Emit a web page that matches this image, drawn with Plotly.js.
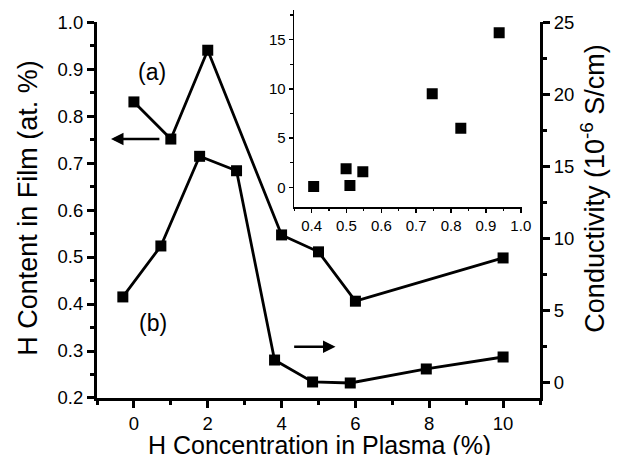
<!DOCTYPE html>
<html>
<head>
<meta charset="utf-8">
<script src="https://cdn.plot.ly/plotly-3.0.1.min.js"></script>
<style>html,body{margin:0;padding:0;background:#fff;}#chart{width:621px;height:455px;}</style>
</head>
<body>
<div id="chart"></div>
<script>
// Series (a): H content in film (left axis)
var plasmaA = [0, 1, 2, 4, 5, 6, 10];
var hContent = [0.83, 0.751, 0.94, 0.547, 0.511, 0.406, 0.498];
// Series (b): conductivity (right axis)
var plasmaB = [-0.3, 0.73, 1.78, 2.78, 3.81, 4.84, 5.86, 7.92, 10];
var conductivity = [5.96, 9.49, 15.7, 14.7, 1.59, 0.07, 0.0, 0.97, 1.8];
// Inset: conductivity vs H content
var insetX = [0.406, 0.499, 0.51, 0.547, 0.746, 0.828, 0.938];
var insetY = [0.1, 1.9, 0.2, 1.6, 9.5, 6.0, 15.7];

var FONT = 'Liberation Sans, Arial, Helvetica, sans-serif';
var mk = {symbol: 'square', size: 11, color: '#000'};

var traces = [
  {x: plasmaA, y: hContent, xaxis: 'x', yaxis: 'y', mode: 'lines+markers',
   line: {color: '#000', width: 2.8}, marker: mk},
  {x: plasmaB, y: conductivity, xaxis: 'x', yaxis: 'y2', mode: 'lines+markers',
   line: {color: '#000', width: 2.8}, marker: mk},
  {x: insetX, y: insetY, xaxis: 'x3', yaxis: 'y3', mode: 'markers',
   marker: {symbol: 'square', size: 11, color: '#000'}}
];

var mainAxis = {
  showgrid: false, zeroline: false, showline: true, linecolor: '#000', linewidth: 3,
  ticks: 'outside', ticklen: 7, tickwidth: 3, tickcolor: '#000',
  tickfont: {family: FONT, size: 18.5, color: '#000'}
};
function ext(a, b) { return Object.assign({}, a, b); }

var insetAxis = {
  showgrid: false, zeroline: false, showline: true, linecolor: '#000', linewidth: 1.5,
  ticks: 'outside', ticklen: 4, tickwidth: 1.5, tickcolor: '#000',
  tickfont: {family: FONT, size: 15, color: '#000'}
};

var layout = {
  width: 621, height: 455,
  margin: {l: 97, r: 81, t: 10, b: 57},
  paper_bgcolor: '#fff', plot_bgcolor: 'rgba(0,0,0,0)',
  showlegend: false,
  font: {family: FONT, color: '#000'},
  xaxis: ext(mainAxis, {range: [-1, 11], dtick: 2, tick0: 0, anchor: 'y',
    minor: {dtick: 1, ticks: 'outside', ticklen: 4, tickwidth: 3, tickcolor: '#000'}}),
  yaxis: ext(mainAxis, {range: [0.2, 1.0], dtick: 0.1, tick0: 0, tickformat: '.1f',
    domain: [0, 0.969], anchor: 'x',
    minor: {dtick: 0.05, ticks: 'outside', ticklen: 4, tickwidth: 3, tickcolor: '#000'}}),
  yaxis2: ext(mainAxis, {range: [-1.04, 25], dtick: 5, tick0: 0, overlaying: 'y', side: 'right',
    domain: [0, 0.969], anchor: 'x',
    minor: {dtick: 2.5, ticks: 'outside', ticklen: 4, tickwidth: 3, tickcolor: '#000'}}),
  xaxis3: ext(insetAxis, {domain: [0.445, 0.959], anchor: 'y3', range: [0.35, 1.003],
    dtick: 0.1, tick0: 0, tickformat: '.1f',
    minor: {dtick: 0.05, ticks: 'outside', ticklen: 2.5, tickwidth: 1.2, tickcolor: '#000'}}),
  yaxis3: ext(insetAxis, {domain: [0.492, 1], anchor: 'x3', range: [-2, 18],
    dtick: 5, tick0: 0,
    minor: {dtick: 2.5, ticks: 'outside', ticklen: 2.5, tickwidth: 1.2, tickcolor: '#000'}}),
  annotations: [
    {xref: 'paper', yref: 'paper', x: -0.156, y: 0.49, text: 'H Content in Film (at. %)',
     textangle: -90, showarrow: false, xanchor: 'center', yanchor: 'middle',
     font: {family: FONT, size: 27, color: '#000'}},
    {xref: 'paper', yref: 'paper', x: 1.12, y: 0.54, text: 'Conductivity (10<sup>-6</sup> S/cm)',
     textangle: -90, showarrow: false, xanchor: 'center', yanchor: 'middle',
     font: {family: FONT, size: 27, color: '#000'}},
    {xref: 'paper', yref: 'paper', x: 0.503, y: -0.16, text: 'H Concentration in Plasma (%)',
     showarrow: false, xanchor: 'center', yanchor: 'bottom', borderpad: 0,
     font: {family: FONT, size: 25, color: '#000'}},
    {xref: 'x', yref: 'y', x: 0.49, y: 0.894, text: '(a)', showarrow: false,
     font: {family: FONT, size: 23, color: '#000'}},
    {xref: 'x', yref: 'y', x: 0.51, y: 0.36, text: '(b)', showarrow: false,
     font: {family: FONT, size: 23, color: '#000'}},
    {xref: 'x', yref: 'y', axref: 'x', ayref: 'y', x: -0.62, y: 0.751, ax: 0.73, ay: 0.751,
     text: '', showarrow: true, arrowhead: 2, arrowsize: 1, arrowwidth: 2.5, arrowcolor: '#000'},
    {xref: 'x', yref: 'y', axref: 'x', ayref: 'y', x: 5.46, y: 0.309, ax: 4.3, ay: 0.309,
     text: '', showarrow: true, arrowhead: 2, arrowsize: 1, arrowwidth: 2.5, arrowcolor: '#000'}
  ]
};

Plotly.newPlot('chart', traces, layout, {staticPlot: true, displayModeBar: false});
</script>
</body>
</html>
